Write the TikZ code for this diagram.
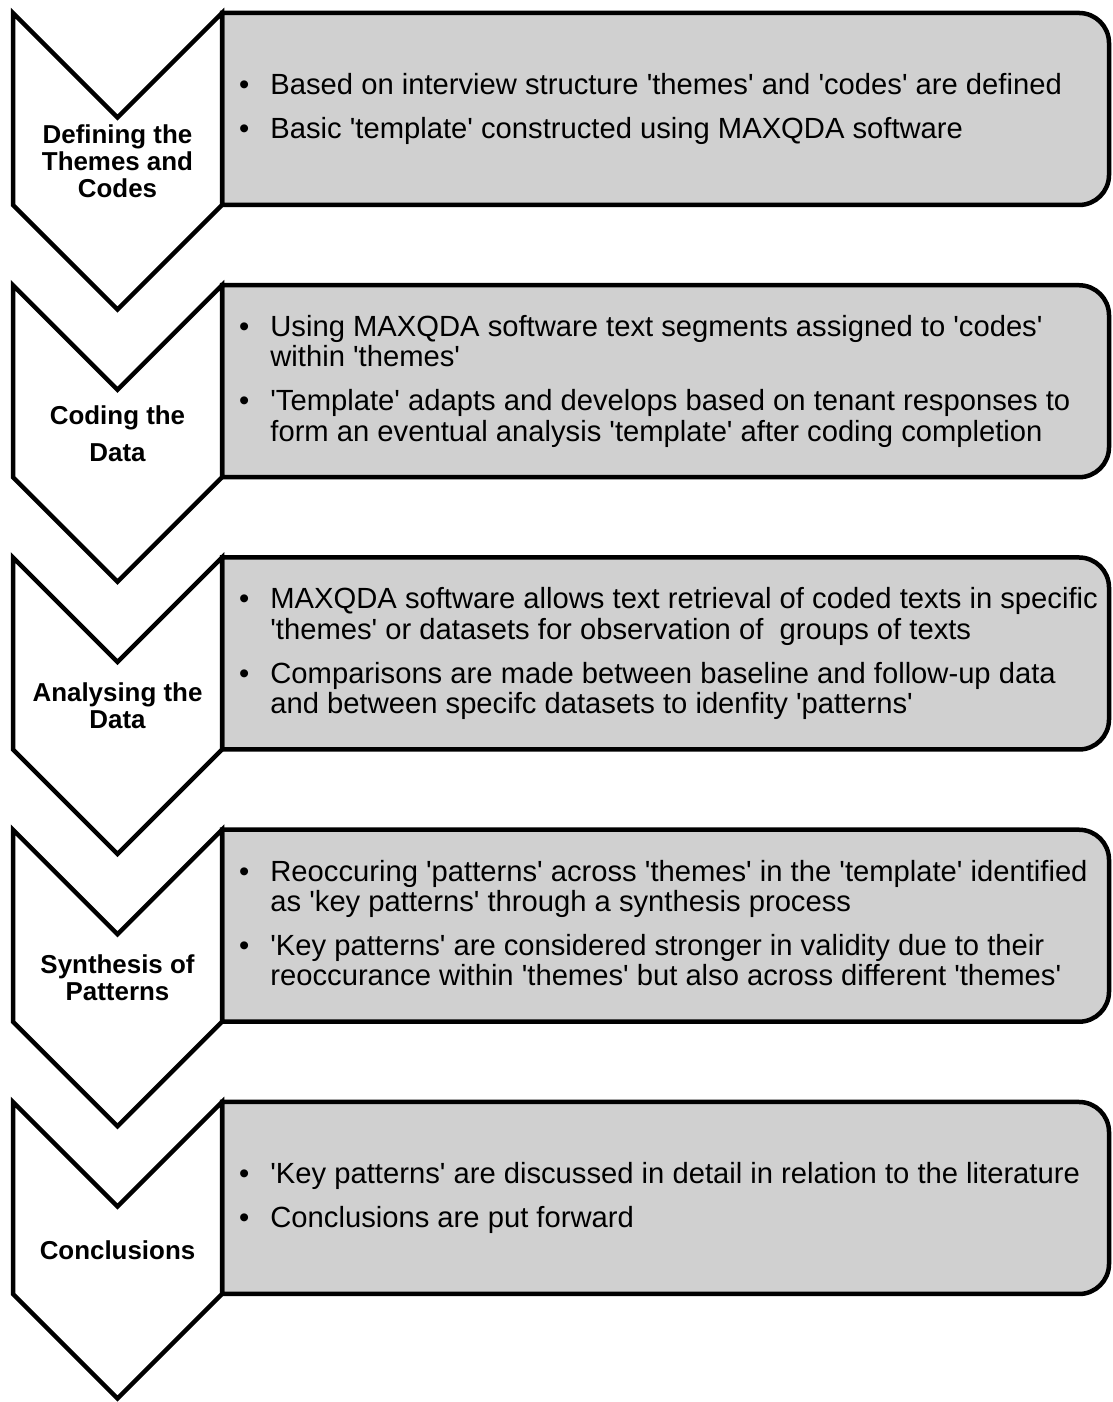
\documentclass[tikz,border=0pt]{standalone}
\usepackage{fontspec}
\setmainfont{Liberation Sans}[Ligatures=TeXOff]
\definecolor{panelgray}{RGB}{208,208,208}
\tikzset{
  x=1bp, y=1bp,
  outline/.style={draw=black, line width=4.5bp, line join=miter},
  chevronshape/.style={outline, fill=white},
  panel/.style={outline, fill=panelgray},
  stagetitle/.style={align=center, inner sep=0pt,
    font=\bfseries\fontsize{26}{27}\selectfont},
  stagetext/.style={anchor=west, inner sep=0pt,
    font=\fontsize{29.3}{30}\selectfont},
}
% one stage: #1 = node prefix, #2 = top edge (measured from the top), #3 = title, #4 = bullet list
\newcommand\stage[4]{%
  \pgfmathsetmacro\stT{1402-#2}%
  \pgfmathsetmacro\stB{\stT-192}%
  \pgfmathsetmacro\stN{\stT-104.5}%
  \pgfmathsetmacro\stP{\stB-104.5}%
  \pgfmathsetmacro\stM{(\stT+\stB)/2-1.5}%
  \pgfmathsetmacro\stC{(\stN+\stB)/2}%
  % grey panel, square on the left, rounded on the right
  \draw[panel] (222,\stB) -- (222,\stT) -- (1079,\stT)
    arc[start angle=90, end angle=0, radius=30bp] -- (1109,\stB+30)
    arc[start angle=0, end angle=-90, radius=30bp] -- cycle;
  % white chevron
  \draw[chevronshape] (13,\stT) -- (117.5,\stN) -- (222,\stT) -- (222,\stB)
    -- (117.5,\stP) -- (13,\stB) -- cycle;
  \node[stagetitle] (#1title) at (117.5,\stC) {#3};
  \node[stagetext] (#1text) at (239,\stM) {%
    \begin{tabular}{@{}l@{\hspace{21bp}}l@{}}#4\end{tabular}};
}
\begin{document}
\begin{tikzpicture}
\useasboundingbox (0,0) rectangle (1112,1402);
\stage{define}{13}{Defining the\\Themes and\\Codes}{%
  • & Based on interview structure 'themes' and 'codes' are defined\\[14bp]
  • & Basic 'template' constructed using MAXQDA software}
\stage{coding}{285.25}{Coding the\\[10bp]Data}{%
  • & Using MAXQDA software text segments assigned to 'codes'\\
    & within 'themes'\\[14bp]
  • & 'Template' adapts and develops based on tenant responses to\\
    & form an eventual analysis 'template' after coding completion}
\stage{analyse}{557.5}{Analysing the\\Data}{%
  • & MAXQDA software allows text retrieval of coded texts in specific\\
    & 'themes' or datasets for observation of \ groups of texts\\[14bp]
  • & Comparisons are made between baseline and follow-up data\\
    & and between specifc datasets to idenfity 'patterns'}
\stage{synth}{829.75}{Synthesis of\\Patterns}{%
  • & Reoccuring 'patterns' across 'themes' in the 'template' identified\\
    & as 'key patterns' through a synthesis process\\[14bp]
  • & 'Key patterns' are considered stronger in validity due to their\\
    & reoccurance within 'themes' but also across different 'themes'}
\stage{concl}{1102}{Conclusions}{%
  • & 'Key patterns' are discussed in detail in relation to the literature\\[14bp]
  • & Conclusions are put forward}
\end{tikzpicture}
\end{document}
